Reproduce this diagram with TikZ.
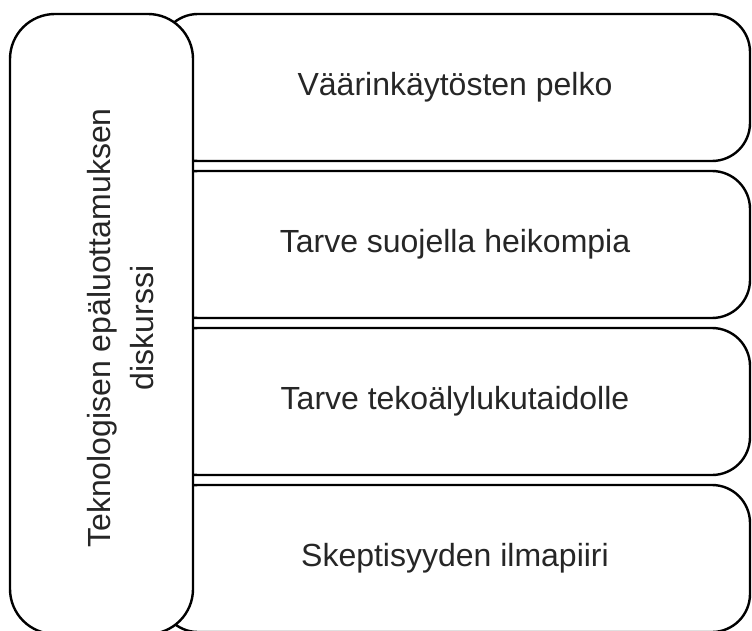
\documentclass[tikz,border=0pt]{standalone}
\usepackage{fontspec}
\setmainfont{Liberation Sans}
\usepackage{tikz}
\usepackage{xcolor}
\tikzstyle{item} = [rectangle, draw = black, fill = white, line width = 2.4pt, rounded corners = 38pt, minimum width = 590pt, minimum height = 147pt, inner sep = 0pt, font = \fontsize{32}{43}\selectfont, text = black!85]
\tikzstyle{mainbox} = [rectangle, draw = black, fill = white, line width = 2.4pt, rounded corners = 45pt, minimum width = 183pt, minimum height = 620pt, inner sep = 0pt]

\begin{document}
\begin{tikzpicture}[x = 1pt, y = 1pt]
            \useasboundingbox (0, 0) rectangle (752, -631);
            \node (I1) at (455, -87.5) [item] {Väärinkäytösten pelko};
            \node (I2) at (455, -244.5) [item] {Tarve suojella heikompia};
            \node (I3) at (455, -401.5) [item] {Tarve tekoälylukutaidolle};
            \node (I4) at (455, -558.5) [item] {Skeptisyyden ilmapiiri};
            \node (D) at (101.5, -324) [mainbox] {};
            \node (Dtext) at (121, -328) [rotate = 90, align = center, font = \fontsize{32}{43}\selectfont, text = black!85] {Teknologisen epäluottamuksen\\diskurssi};
        \end{tikzpicture}
\end{document}
